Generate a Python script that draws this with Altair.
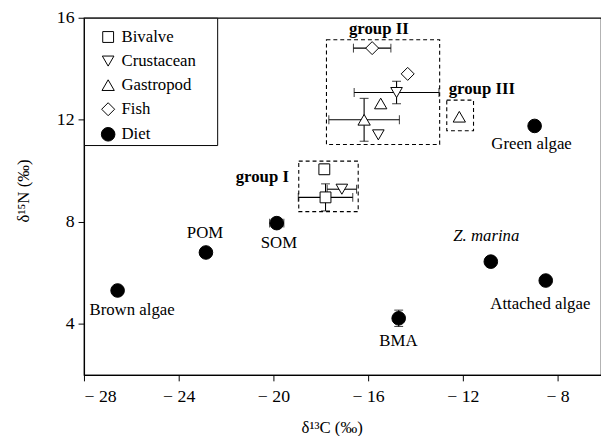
import altair as alt
import pandas as pd

# ---- consumers (group members) ----
cons_type = ["Bivalve", "Bivalve", "Crustacean", "Crustacean", "Crustacean",
             "Gastropod", "Gastropod", "Gastropod", "Fish", "Fish"]
cons_x = [-17.85, -17.80, -17.11, -14.80, -15.57, -15.47, -16.17, -12.15, -15.83, -14.33]
cons_y = [10.06, 8.96, 9.28, 13.07, 11.41, 12.64, 12.00, 12.12, 14.81, 13.80]
cons_xerr = [0, 1.15, 0.62, 1.79, 0, 0, 1.49, 0, 0.79, 0]
cons_yerr = [0.20, 0.53, 0, 0.44, 0, 0, 0.84, 0, 0, 0]

# ---- diet sources ----
diet_name = ["Brown algae", "POM", "SOM", "BMA", "Z. marina", "Attached algae", "Green algae"]
diet_x = [-26.58, -22.85, -19.86, -14.71, -10.82, -8.50, -8.97]
diet_y = [5.31, 6.80, 7.95, 4.22, 6.44, 5.70, 11.76]
diet_xerr = [0, 0, 0.30, 0, 0, 0, 0]
diet_yerr = [0, 0, 0, 0.32, 0, 0, 0]
diet_label_x = [-25.97, -22.89, -19.77, -14.72, -11.01, -8.73, -9.10]
diet_label_y = [4.53, 7.55, 7.17, 3.34, 7.43, 4.76, 11.05]

# ---- groups ----
group_name = ["group I", "group II", "group III"]
group_x1 = [-18.93, -17.76, -12.68]
group_x2 = [-16.42, -12.98, -11.55]
group_y1 = [8.40, 11.03, 11.57]
group_y2 = [10.38, 15.14, 12.77]
group_label_x = [-20.47, -15.55, -11.20]
group_label_y = [9.76, 15.57, 13.21]

# ---- legend / axes ----
types = ["Bivalve", "Crustacean", "Gastropod", "Fish", "Diet"]
shapes = ["square", "triangle-down", "triangle-up", "diamond", "circle"]
fills = ["white", "white", "white", "white", "black"]
strokes = ["black", "black", "black", "black", "black"]
sizes = [121, 190, 190, 180, 150]
x_ticks = [-28, -24, -20, -16, -12, -8]
y_ticks = [4, 8, 12, 16]
x_domain = [-28, -6.1667]
y_domain = [2, 16]

FONT = "Liberation Serif"

pts = pd.DataFrame({
    "type": cons_type + ["Diet"] * len(diet_name),
    "x": cons_x + diet_x,
    "y": cons_y + diet_y,
    "xerr": cons_xerr + diet_xerr,
    "yerr": cons_yerr + diet_yerr,
})
pts["xlo"] = pts["x"] - pts["xerr"]
pts["xhi"] = pts["x"] + pts["xerr"]
pts["ylo"] = pts["y"] - pts["yerr"]
pts["yhi"] = pts["y"] + pts["yerr"]
xe = pts[pts["xerr"] > 0].copy()
ye = pts[pts["yerr"] > 0].copy()
xcaps = pd.concat([xe.assign(cx=xe["xlo"]), xe.assign(cx=xe["xhi"])])
ycaps = pd.concat([ye.assign(cy=ye["ylo"]), ye.assign(cy=ye["yhi"])])

labels = pd.DataFrame({"name": diet_name, "lx": diet_label_x, "ly": diet_label_y})
groups = pd.DataFrame({"name": group_name, "x1": group_x1, "x2": group_x2,
                       "y1": group_y1, "y2": group_y2,
                       "lx": group_label_x, "ly": group_label_y})

xscale = alt.Scale(domain=x_domain, nice=False, zero=False)
yscale = alt.Scale(domain=y_domain, nice=False, zero=False)
xaxis = alt.Axis(values=x_ticks, labelExpr="'\u2212 ' + abs(datum.value)",
                 title="\u03b4\u00b9\u00b3C (\u2030)", titleX=251, titlePadding=14,
                 labelPadding=7)
yaxis = alt.Axis(values=y_ticks, title="\u03b4\u00b9\u2075N (\u2030)",
                 titleY=175, titlePadding=24, labelPadding=4)


def X(f):
    return alt.X(f, type="quantitative", scale=xscale, axis=xaxis)


def Y(f):
    return alt.Y(f, type="quantitative", scale=yscale, axis=yaxis)


boxes = alt.Chart(groups).mark_rect(fillOpacity=0, stroke="black", strokeWidth=1.1,
                                    strokeDash=[4, 3]).encode(
    x=X("x1"), x2="x2", y=Y("y1"), y2="y2")

xrule = alt.Chart(xe).mark_rule(color="black", strokeWidth=1.1).encode(
    x=X("xlo"), x2="xhi", y=Y("y"))
xcap = alt.Chart(xcaps).mark_tick(orient="vertical", size=9, thickness=1.1,
                                  color="black").encode(x=X("cx"), y=Y("y"))
yrule = alt.Chart(ye).mark_rule(color="black", strokeWidth=1.1).encode(
    x=X("x"), y=Y("ylo"), y2="yhi")
ycap = alt.Chart(ycaps).mark_tick(orient="horizontal", size=9, thickness=1.1,
                                  color="black").encode(x=X("x"), y=Y("cy"))

# the (white, invisible) legend title only reserves the legend's top spacing and width
leg = alt.Legend(orient="none", legendX=0, legendY=0, title="M" * 24 + "I",
                 titleFontSize=6, titlePadding=3, titleColor="white",
                 titleFont=FONT, titleFontWeight="normal",
                 strokeColor="black", padding=2, symbolOffset=14,
                 labelFont=FONT, labelFontSize=17,
                 labelColor="black", rowPadding=6.4, labelOffset=5,
                 symbolStrokeColor="black", symbolStrokeWidth=1, fillColor="white")

points = alt.Chart(pts).mark_point(filled=True, strokeWidth=1, opacity=1).encode(
    x=X("x"), y=Y("y"),
    shape=alt.Shape("type:N", scale=alt.Scale(domain=types, range=shapes), legend=leg),
    fill=alt.Fill("type:N", scale=alt.Scale(domain=types, range=fills), legend=leg),
    stroke=alt.Stroke("type:N", scale=alt.Scale(domain=types, range=strokes), legend=leg),
    size=alt.Size("type:N", scale=alt.Scale(domain=types, range=sizes), legend=leg),
)

dlabels = alt.Chart(labels).transform_filter("datum.name != 'Z. marina'").mark_text(
    font=FONT, fontSize=17, color="black").encode(x=X("lx"), y=Y("ly"), text="name:N")
zlabel = alt.Chart(labels).transform_filter("datum.name == 'Z. marina'").mark_text(
    font=FONT, fontSize=17, fontStyle="italic", color="black").encode(
    x=X("lx"), y=Y("ly"), text="name:N")
glabels = alt.Chart(groups).mark_text(font=FONT, fontSize=17, fontWeight="bold",
                                      color="black").encode(
    x=X("lx"), y=Y("ly"), text="name:N")

chart = alt.layer(boxes, xrule, xcap, yrule, ycap, points, dlabels, zlabel, glabels).properties(
    width=524, height=362,
    autosize=alt.AutoSizeParams(type="none"),
    padding={"left": 77, "top": 7, "right": 0, "bottom": 59},
    background="white",
).configure_view(stroke="black", strokeWidth=1.2).configure_axis(
    grid=False, domainColor="black", tickColor="black", tickSize=6,
    labelFont=FONT, labelFontSize=18, labelColor="black",
    titleFont=FONT, titleFontSize=17, titleFontWeight="normal", titleColor="black",
    domainWidth=1.2,
)

chart.save("out.html", embed_options={"renderer": "svg", "actions": False})
